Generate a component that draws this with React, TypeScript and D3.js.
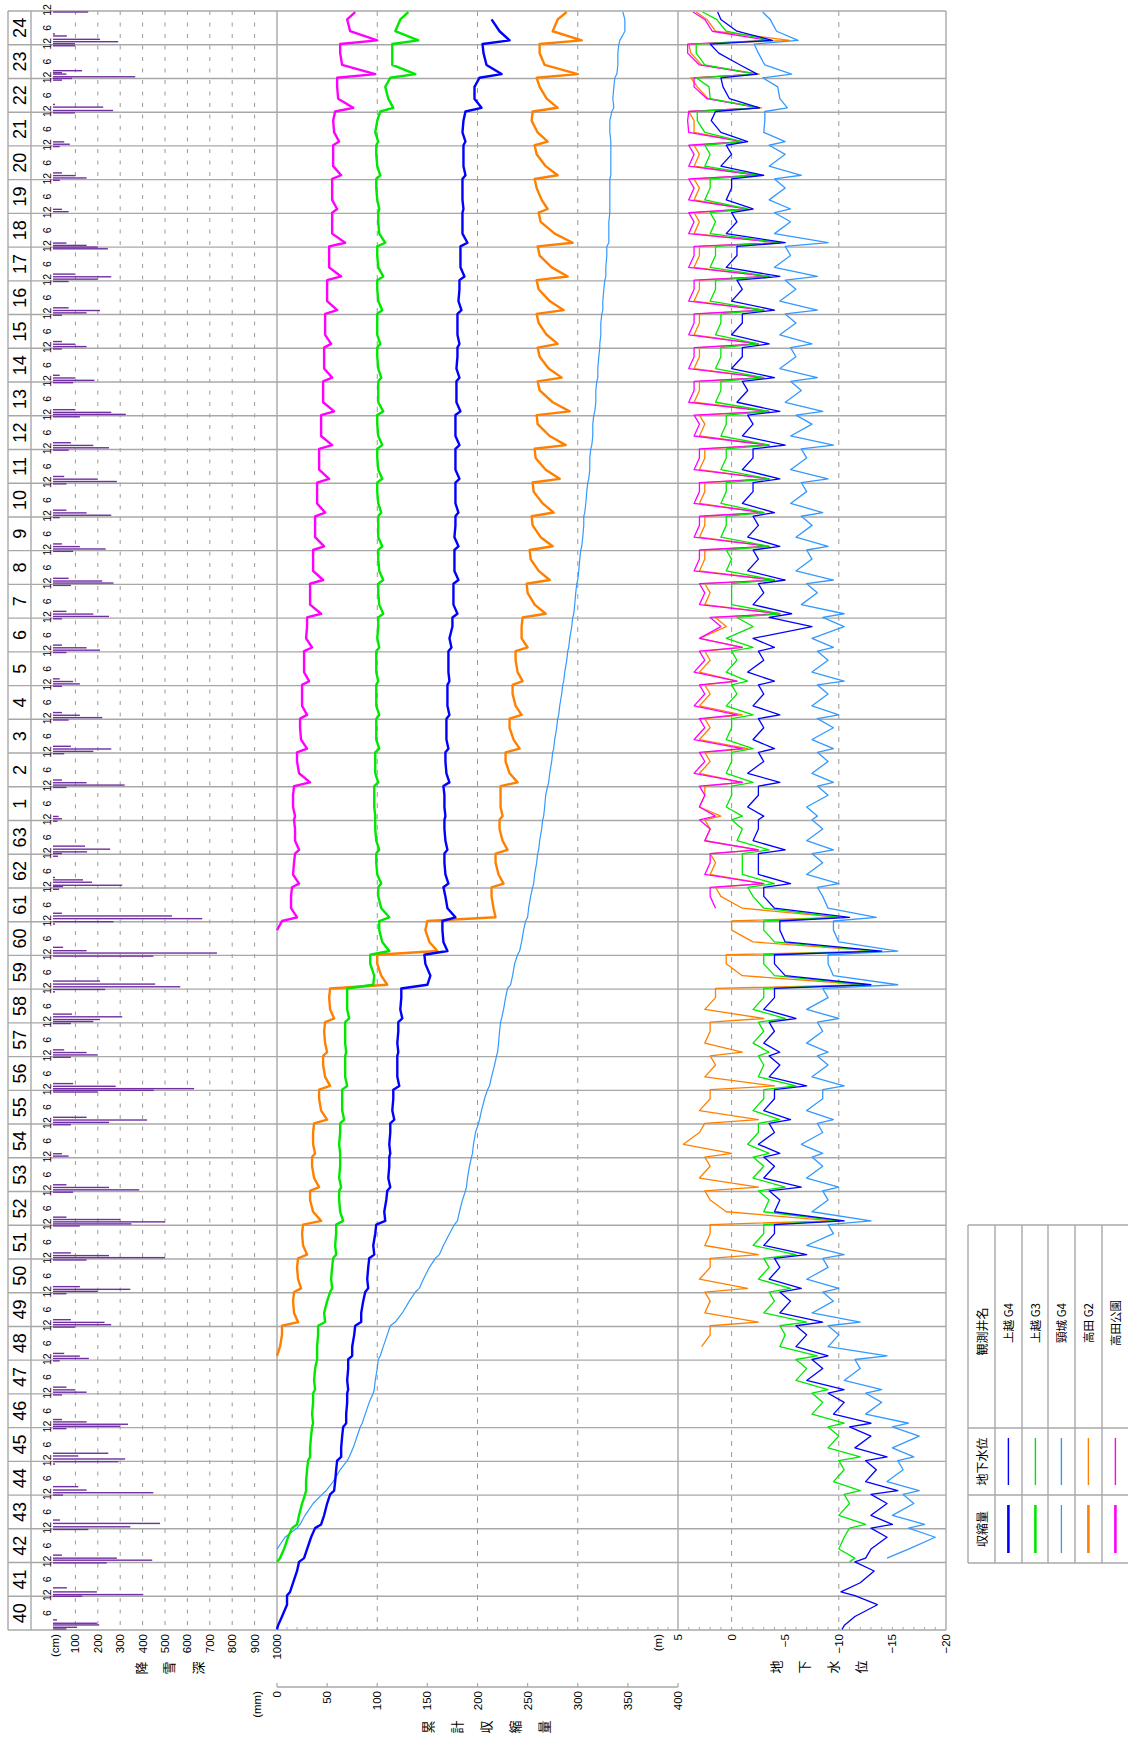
import React from 'react';
import * as d3 from 'd3';

const W = 1128;
const H = 1739;
const FONT = "'Liberation Sans', 'Noto Sans CJK JP', sans-serif";
const JP = "'Noto Sans CJK JP', sans-serif";

// years: Showa 40 (1965) .. Heisei 24 (2012)
const firstYear = 1965;
const lastYear = 2013;
const yearLabels = [
  '40', '41', '42', '43', '44', '45', '46', '47', '48', '49', '50', '51',
  '52', '53', '54', '55', '56', '57', '58', '59', '60', '61', '62', '63',
  '1', '2', '3', '4', '5', '6', '7', '8', '9', '10', '11', '12',
  '13', '14', '15', '16', '17', '18', '19', '20', '21', '22', '23', '24',
];

const snowTicks = [100, 200, 300, 400, 500, 600, 700, 800, 900, 1000];
const shrinkTicks = [0, 50, 100, 150, 200, 250, 300, 350, 400];
const gwTicks = [5, 0, -5, -10, -15, -20];

// snowfall depth bars: [decimal year, cm]
const snowDepth: [number, number][] = [
  [1965.03, 60], [1965.08, 107], [1965.15, 206], [1965.2, 196], [1965.3, 18],
  [1966.0, 130], [1966.05, 403], [1966.13, 196], [1966.25, 62],
  [1966.99, 240], [1967.07, 443], [1967.13, 285], [1967.22, 40],
  [1967.98, 158], [1968.06, 345], [1968.16, 478], [1968.26, 31],
  [1969.0, 45], [1969.07, 448], [1969.15, 150], [1969.25, 113],
  [1969.92, 9], [1969.99, 292], [1970.07, 322], [1970.16, 113], [1970.24, 247],
  [1970.97, 60], [1971.04, 300], [1971.1, 335], [1971.17, 150], [1971.24, 40],
  [1971.97, 40], [1972.05, 150], [1972.12, 100], [1972.2, 60],
  [1972.98, 30], [1973.05, 160], [1973.12, 120], [1973.2, 50],
  [1973.98, 100], [1974.05, 260], [1974.12, 230], [1974.2, 80],
  [1974.97, 60], [1975.04, 200], [1975.1, 345], [1975.18, 120],
  [1975.97, 150], [1976.04, 500], [1976.1, 250], [1976.18, 80],
  [1976.98, 120], [1977.04, 350], [1977.1, 500], [1977.17, 300], [1977.24, 60],
  [1977.98, 90], [1978.05, 385], [1978.12, 250], [1978.2, 60],
  [1979.05, 70], [1979.12, 40],
  [1979.98, 80], [1980.05, 250], [1980.12, 420], [1980.2, 150],
  [1980.95, 200], [1981.0, 450], [1981.05, 630], [1981.12, 280], [1981.2, 90],
  [1981.98, 80], [1982.05, 200], [1982.12, 150], [1982.2, 50],
  [1982.98, 80], [1983.04, 180], [1983.1, 210], [1983.18, 309], [1983.26, 85],
  [1983.92, 9], [1983.99, 233], [1984.07, 568], [1984.15, 456], [1984.24, 210],
  [1984.98, 448], [1985.07, 732], [1985.14, 150], [1985.24, 45],
  [1985.93, 9], [1986.0, 270], [1986.09, 666], [1986.17, 531], [1986.25, 40],
  [1986.96, 27], [1987.04, 45], [1987.08, 309], [1987.17, 174], [1987.24, 134], [1987.31, 9],
  [1987.94, 22], [1988.02, 40], [1988.07, 152], [1988.15, 255], [1988.24, 143],
  [1988.98, 20], [1989.05, 40], [1989.12, 25],
  [1989.98, 60], [1990.05, 320], [1990.12, 150], [1990.2, 40],
  [1990.98, 50], [1991.05, 180], [1991.12, 260], [1991.2, 80],
  [1991.98, 70], [1992.05, 220], [1992.12, 120], [1992.2, 40],
  [1992.98, 40], [1993.05, 120], [1993.12, 90], [1993.2, 30],
  [1993.98, 60], [1994.05, 210], [1994.12, 150], [1994.2, 40],
  [1994.98, 40], [1995.05, 250], [1995.12, 180], [1995.2, 60],
  [1995.97, 80], [1996.04, 270], [1996.1, 220], [1996.18, 70],
  [1996.98, 90], [1997.05, 235], [1997.12, 120], [1997.2, 40],
  [1997.98, 30], [1998.05, 260], [1998.12, 150], [1998.2, 60],
  [1998.98, 60], [1999.05, 285], [1999.12, 200], [1999.2, 50],
  [1999.98, 70], [2000.05, 250], [2000.12, 180], [2000.2, 80],
  [2000.97, 120], [2001.04, 325], [2001.1, 260], [2001.18, 100],
  [2001.98, 90], [2002.05, 185], [2002.12, 100], [2002.2, 30],
  [2002.98, 40], [2003.05, 150], [2003.12, 100], [2003.2, 40],
  [2003.98, 40], [2004.05, 150], [2004.12, 210], [2004.2, 70],
  [2004.98, 70], [2005.05, 200], [2005.12, 260], [2005.2, 100],
  [2005.95, 245], [2006.0, 200], [2006.05, 150], [2006.12, 60],
  [2007.05, 70], [2007.12, 40],
  [2007.98, 30], [2008.05, 150], [2008.12, 100], [2008.2, 40],
  [2008.98, 30], [2009.05, 75], [2009.12, 50],
  [2009.98, 98], [2010.05, 268], [2010.15, 224], [2010.23, 9],
  [2010.95, 40], [2011.0, 85], [2011.05, 367], [2011.13, 60], [2011.17, 40], [2011.23, 130],
  [2011.97, 98], [2012.03, 98], [2012.09, 291], [2012.16, 210], [2012.26, 62], [2012.32, 9],
  [2012.97, 157],
];

// each row = one year, sampled early Jan, mid Feb, May, Oct, (late Dec)
const sampleAt = [0.02, 0.13, 0.4, 0.75, 0.97];

// cumulative shrinkage (mm)
const shrinkJoetsuG4 = [
  [0, 1, 5, 10], [10, 13, 16, 20], [22, 27, 30, 34], [38, 44, 47, 50], [53, 57, 58, 59],
  [60, 64, 64, 65], [66, 69, 69, 70], [70, 71, 70, 71], [71, 75, 75, 77], [78, 84, 84, 86],
  [88, 91, 90, 91], [92, 97, 96, 98], [99, 108, 107, 109], [110, 113, 111, 112], [112, 113, 112, 113],
  [113, 117, 115, 116], [116, 122, 120, 120], [120, 121, 120, 121], [121, 125, 123, 124], [124, 150, 153, 148],
  [147, 170, 166, 165], [165, 178, 170, 168], [166, 171, 168, 167], [167, 170, 168, 167], [167, 168, 167, 167],
  [166, 172, 169, 168], [168, 171, 169, 169], [169, 172, 170, 170], [170, 172, 171, 171], [171, 174, 172, 175],
  [175, 180, 176, 176], [176, 181, 177, 177], [177, 181, 177, 178], [178, 181, 178, 178], [178, 182, 178, 178],
  [178, 182, 178, 178], [178, 183, 179, 179], [179, 182, 179, 180], [180, 182, 180, 180], [180, 184, 181, 182],
  [182, 187, 183, 183], [183, 190, 185, 185], [185, 186, 185, 185], [185, 188, 186, 186], [186, 188, 185, 186],
  [188, 204, 197, 197], [202, 224, 209, 206], [205, 232, 222, 214],
];
const shrinkJoetsuG3 = [
  [0, 3, 7, 11], [15, 20, 22, 25], [28, 29, 29, 30], [31, 33, 33, 34], [35, 36, 35, 36],
  [36, 38, 37, 38], [40, 40, 40, 41], [41, 48, 47, 50], [53, 55, 54, 55], [56, 59, 58, 59],
  [59, 66, 63, 62], [62, 64, 62, 63], [63, 63, 62, 63], [63, 67, 65, 65], [65, 70, 68, 68],
  [68, 69, 68, 68], [68, 72, 70, 70], [70, 96, 97, 93], [93, 112, 105, 102], [102, 112, 104, 101],
  [101, 104, 100, 99], [99, 102, 99, 98], [98, 98, 97, 97], [97, 101, 98, 98], [98, 102, 99, 99],
  [99, 102, 99, 99], [99, 101, 99, 99], [99, 102, 100, 101], [101, 106, 102, 101], [101, 106, 102, 101],
  [101, 105, 101, 101], [101, 104, 101, 100], [100, 105, 101, 100], [100, 105, 101, 100], [100, 106, 101, 101],
  [101, 104, 101, 100], [100, 103, 100, 100], [100, 105, 101, 100], [100, 106, 101, 100], [100, 108, 102, 101],
  [101, 102, 100, 99], [99, 103, 100, 99], [99, 101, 98, 100], [103, 116, 111, 108], [113, 138, 115, 115],
  [115, 141, 118, 123, 131],
];
const shrinkKubikiG4 = [
  [null, null, 0, 8], [20, 23, 28, 36], [45, 49, 56, 63], [70, 72, 76, 80], [83, 85, 88, 92],
  [96, 97, 98, 100], [101, 103, 106, 110], [113, 118, 125, 132], [138, 142, 146, 152], [158, 162, 166, 172],
  [177, 180, 182, 185], [188, 189, 190, 192], [194, 195, 196, 198], [201, 202, 204, 207], [210, 212, 214, 217],
  [219, 220, 221, 222], [223, 224, 226, 228], [230, 233, 235, 237], [240, 242, 244, 246], [248, 250, 251, 253],
  [255, 256, 257, 259], [260, 261, 262, 264], [265, 266, 267, 268], [270, 271, 272, 274], [275, 276, 277, 279],
  [280, 281, 282, 284], [285, 286, 287, 289], [290, 291, 292, 294], [295, 296, 297, 298], [299, 300, 301, 302],
  [303, 304, 305, 306], [306, 307, 308, 309], [310, 311, 312, 312], [313, 314, 315, 315], [316, 317, 318, 318],
  [319, 320, 320, 321], [322, 322, 323, 323], [324, 325, 325, 326], [327, 328, 328, 329], [329, 331, 331, 331],
  [332, 332, 332, 332], [332, 333, 333, 333], [333, 333, 332, 332], [334, 336, 335, 336], [337, 339, 340, 340],
  [341, 342, 347, 347, 345],
];
const shrinkTakadaG2 = [
  [null, 0, 3, 5], [5, 21, 17, 16], [17, 24, 21, 20], [21, 30, 26, 25], [26, 44, 36, 33],
  [33, 42, 37, 35], [35, 38, 36, 36], [37, 50, 44, 42], [42, 53, 48, 46], [46, 50, 48, 47],
  [48, 57, 53, 52], [53, 110, 104, 100], [100, 160, 152, 148], [150, 218, 216, 214], [214, 226, 221, 218],
  [218, 230, 225, 222], [222, 225, 223, 223], [223, 240, 232, 228], [228, 242, 236, 232], [232, 244, 238, 235],
  [235, 245, 240, 238], [238, 250, 244, 244], [245, 268, 257, 250], [249, 272, 261, 253], [252, 275, 263, 255],
  [254, 276, 265, 256], [255, 282, 268, 258], [257, 288, 272, 260], [259, 292, 275, 262], [260, 284, 271, 262],
  [260, 280, 269, 261], [259, 286, 272, 261], [259, 290, 274, 262], [260, 295, 277, 263], [261, 270, 264, 259],
  [257, 280, 268, 259], [257, 270, 260, 254], [255, 280, 269, 262], [259, 300, 267, 262], [262, 304, 275, 280, 289],
];
const shrinkTakadaPark = [
  [null, null, null, 0], [5, 20, 14, 14], [15, 22, 16, 17], [18, 22, 18, 18], [17, 18, 16, 16],
  [17, 33, 22, 20], [20, 30, 24, 23], [23, 30, 25, 25], [25, 32, 27, 27], [27, 35, 29, 30],
  [30, 44, 33, 33], [33, 46, 36, 36], [36, 47, 38, 38], [38, 48, 40, 40], [40, 52, 42, 42],
  [42, 55, 44, 44], [44, 57, 46, 46], [46, 55, 47, 47], [47, 54, 48, 48], [48, 60, 50, 50],
  [50, 64, 52, 52], [52, 68, 55, 55], [55, 60, 55, 55], [55, 64, 56, 56], [56, 62, 57, 56],
  [58, 76, 61, 60], [60, 98, 65, 63], [63, 100, 73, 70, 78],
];

// groundwater level (m)
const gwJoetsuG4 = [
  [-10.3, -10.5, -11.5, -13.6], [-11.5, -10.2, -12.0, -13.3], [-11.5, -12.5, -13.0, -14.5], [-13.0, -15.0, -13.0, -14.5], [-13.0, -15.5, -12.5, -13.5],
  [-12.5, -14.5, -11.5, -13.0], [-11.0, -13.0, -9.5, -10.5], [-9.0, -10.5, -7.0, -8.5], [-7.5, -9.0, -6.0, -7.0], [-6.0, -8.5, -4.5, -5.5],
  [-4.5, -6.5, -3.5, -4.5], [-4.0, -7.0, -3.0, -4.0], [-4.0, -10.5, -4.0, -4.5], [-3.5, -6.5, -3.0, -4.0], [-3.0, -4.5, -2.5, -4.0],
  [-3.5, -5.5, -3.0, -4.0], [-4.0, -7.0, -3.5, -4.5], [-3.5, -4.5, -3.0, -4.0], [-3.5, -6.0, -3.0, -4.0], [-4.0, -13.0, -5.0, -4.0],
  [-4.0, -14.0, -5.0, -4.5], [-4.5, -11.0, -4.0, -3.0], [-3.0, -5.5, -2.5, -2.5], [-2.5, -5.0, -2.0, -2.5], [-2.5, -3.0, -1.5, -2.5],
  [-2.5, -4.5, -1.5, -3.0], [-2.5, -4.0, -2.0, -3.0], [-2.5, -4.5, -2.0, -3.0], [-2.5, -4.0, -1.5, -3.0], [-2.5, -4.0, -2.0, -7.5],
  [-3.5, -5.6, -2.0, -3.0], [-2.5, -5.0, -1.5, -2.5], [-2.0, -4.5, -1.5, -2.5], [-2.0, -4.0, -1.0, -2.0], [-2.0, -4.5, -1.0, -2.0],
  [-2.0, -5.0, -1.0, -2.0], [-1.5, -4.5, -0.5, -1.5], [-1.0, -4.0, 0.0, -1.0], [-1.0, -3.5, 0.0, -1.0], [-1.0, -4.0, 0.0, -1.0],
  [-0.5, -4.5, 0.5, -0.5], [-0.5, -5.0, 0.5, -0.5], [0.0, -2.0, 0.5, 0.0], [0.0, -3.0, 1.0, 0.0], [0.5, -1.5, 1.0, 1.9],
  [1.5, -2.6, 0.2, 0.8], [1.0, -2.4, -0.8, 1.2], [2.0, -3.8, -0.5, 1.0, 1.3],
];
const gwJoetsuG3 = [
  [-11.0, -11.5, -10.0, -10.5], [-11.0, -12.5, -10.0, -11.0], [-10.5, -12.0, -9.5, -10.5], [-10.0, -12.0, -9.0, -10.0], [-9.0, -10.5, -7.5, -8.5],
  [-7.5, -9.0, -6.0, -7.0], [-6.0, -8.0, -4.5, -5.0], [-4.5, -7.0, -3.0, -4.0], [-3.5, -5.5, -2.5, -3.5], [-3.0, -6.0, -2.0, -3.0],
  [-3.0, -10.0, -3.0, -3.5], [-2.5, -5.0, -2.0, -3.0], [-2.0, -3.5, -1.5, -2.5], [-2.5, -4.5, -2.0, -3.0], [-3.0, -6.0, -2.5, -3.0],
  [-2.5, -3.5, -2.0, -3.0], [-2.5, -5.0, -2.0, -3.0], [-3.0, -12.5, -4.0, -3.0], [-3.0, -13.5, -4.0, -3.0], [-3.0, -10.0, -3.0, -2.0],
  [-1.5, -4.0, -1.0, -1.0], [-1.0, -3.5, -0.5, -1.0], [0.0, -1.0, 0.5, 0.0], [0.0, -2.0, 0.5, 0.0], [0.0, -2.0, 0.5, 0.0],
  [0.0, -2.0, 0.5, -0.5], [0.0, -1.5, 0.5, -0.5], [0.0, -2.0, 0.5, -2.0], [-0.5, -4.5, 0.0, 0.0], [0.0, -4.0, 0.5, 0.0],
  [0.5, -3.5, 1.0, 0.5], [0.5, -3.0, 1.0, 0.5], [0.5, -3.5, 1.0, 0.5], [0.5, -3.5, 1.0, 0.5], [0.5, -3.5, 1.5, 1.0],
  [1.0, -3.0, 1.5, 1.0], [1.0, -2.5, 1.5, 1.0], [1.0, -3.0, 2.0, 1.5], [1.5, -3.5, 2.0, 1.5], [1.5, -4.5, 2.0, 1.5],
  [2.0, -1.5, 2.5, 2.0], [2.0, -2.5, 2.5, 2.0], [2.5, -1.0, 2.5, 3.2], [3.2, -2.6, 2.0, 2.1], [3.3, -2.3, 2.5, 3.3],
  [3.3, -3.7, 0.5, 1.4, 2.7],
];
const gwKubikiG4 = [
  [null, -14.5, -16.5, -19.0], [-16.5, -18.0, -15.0, -17.0], [-16.0, -17.5, -14.5, -16.0], [-15.5, -17.0, -15.0, -17.5], [-15.0, -16.5, -12.5, -14.0],
  [-12.5, -14.0, -10.5, -12.0], [-11.5, -14.5, -9.0, -10.0], [-9.0, -12.0, -7.5, -9.5], [-8.5, -10.0, -7.0, -9.0], [-8.5, -10.5, -7.0, -9.5],
  [-9.0, -13.0, -7.5, -9.0], [-8.5, -10.0, -7.0, -8.5], [-7.5, -8.5, -6.5, -8.5], [-8.0, -9.5, -7.0, -8.5], [-8.5, -10.5, -7.5, -9.0],
  [-8.0, -9.0, -7.0, -8.5], [-8.0, -10.0, -7.0, -9.0], [-8.5, -15.5, -9.5, -9.0], [-9.0, -15.5, -10.0, -9.5], [-9.5, -13.5, -9.0, -8.5],
  [-8.0, -10.0, -7.0, -8.5], [-7.5, -9.5, -7.0, -8.5], [-7.5, -8.0, -7.0, -9.0], [-8.0, -9.5, -7.5, -9.0], [-8.0, -9.5, -7.5, -9.5],
  [-8.0, -10.0, -7.5, -9.0], [-8.0, -10.5, -7.5, -9.0], [-8.0, -9.5, -7.5, -10.5], [-8.5, -10.5, -6.5, -8.0], [-7.0, -9.5, -6.0, -7.5],
  [-7.0, -9.0, -6.0, -7.5], [-6.5, -8.5, -5.5, -7.0], [-6.5, -9.0, -5.5, -7.0], [-6.5, -9.5, -5.5, -7.5], [-6.0, -8.5, -5.0, -6.5],
  [-5.5, -8.0, -4.5, -6.0], [-5.5, -7.5, -4.5, -6.0], [-5.0, -8.0, -4.5, -6.0], [-5.0, -8.0, -4.0, -5.5], [-5.0, -9.0, -4.0, -5.5],
  [-4.0, -5.5, -3.5, -5.0], [-4.0, -6.5, -3.5, -5.0], [-3.5, -5.0, -3.0, -3.1], [-3.1, -5.2, -4.5, -4.3], [-2.9, -5.6, -3.1, -2.5],
  [-2.1, -6.2, -4.2, -3.6, -2.9],
];
const gwTakadaG2 = [
  [null, null, 2.8, 2.0], [2.0, -2.5, 2.5, 2.0], [2.5, -1.5, 3.0, 2.0], [2.0, -2.5, 2.5, 2.0], [2.0, -9.5, 0.5, 2.0],
  [2.5, -2.5, 3.0, 2.0], [2.5, 0.0, 4.5, 3.0], [2.5, -2.5, 3.0, 2.0], [2.0, -4.0, 2.5, 1.5], [2.0, -1.0, 2.5, 2.0],
  [2.0, -3.0, 2.5, 1.5], [1.5, -12.5, -1.0, 0.5], [0.5, -13.5, -2.0, 0.0], [0.0, -10.0, -1.0, 1.0], [1.5, -3.0, 2.0, 1.5],
  [2.0, -2.5, 2.5, 2.0], [2.5, 1.0, 3.0, 2.5], [2.5, -1.0, 3.0, 2.0], [2.5, -1.5, 3.0, 2.0], [2.5, -1.0, 3.0, 2.0],
  [2.5, -0.5, 3.0, 2.0], [2.5, -1.0, 3.0, 0.5], [1.5, -4.5, 2.5, 2.0], [2.5, -4.0, 3.0, 2.5], [2.5, -3.5, 3.0, 2.5],
  [2.5, -3.0, 3.0, 2.5], [2.5, -3.5, 3.0, 2.5], [2.5, -3.5, 3.0, 2.5], [3.0, -3.5, 3.5, 3.0], [3.0, -3.0, 3.5, 3.0],
  [3.0, -2.5, 3.5, 3.0], [3.0, -3.0, 3.5, 3.0], [3.0, -3.5, 3.5, 3.0], [3.0, -4.5, 3.5, 3.0], [3.5, -1.5, 3.5, 3.0],
  [3.5, -2.5, 3.5, 3.0], [3.5, -1.0, 3.5, 3.5], [4.0, -2.8, 2.2, 3.2], [3.8, -2.6, 2.8, 3.8], [4.0, -5.4, 1.5, 2.3, 3.3],
];
const gwTakadaPark = [
  [null, null, 1.5, 2.0], [2.0, -3.0, 2.5, 2.0], [2.0, -2.5, 2.5, 2.0], [3.0, 1.5, 3.0, 2.5], [3.0, -1.0, 3.5, 2.5],
  [3.0, -1.0, 3.5, 2.5], [3.0, -0.5, 3.5, 2.5], [3.0, -0.5, 3.5, 2.5], [3.0, -1.0, 3.0, 1.0], [2.0, -4.5, 3.0, 2.5],
  [3.0, -4.0, 3.5, 3.0], [3.0, -3.5, 3.5, 3.0], [3.0, -3.0, 3.5, 3.0], [3.0, -3.5, 3.5, 3.0], [3.0, -3.5, 3.5, 3.0],
  [3.5, -3.5, 4.0, 3.5], [3.5, -3.0, 4.0, 3.5], [3.5, -2.5, 4.0, 3.5], [3.5, -3.0, 4.0, 3.5], [3.5, -3.5, 4.0, 3.5],
  [3.5, -4.5, 4.0, 3.5], [4.0, -1.5, 4.0, 3.5], [4.0, -2.5, 4.0, 3.5], [4.0, -1.0, 4.0, 4.1], [4.0, -2.6, 2.3, 3.5],
  [3.5, -2.3, 3.0, 4.1], [4.1, -3.4, 1.8, 2.5, 3.6],
];

const wells = [
  { name: '上越 G4', color: '#0000ff', width: 2.4, shrinkStart: 1965, shrink: shrinkJoetsuG4, gwStart: 1965, gw: gwJoetsuG4 },
  { name: '上越 G3', color: '#00e800', width: 2.4, shrinkStart: 1967, shrink: shrinkJoetsuG3, gwStart: 1967, gw: gwJoetsuG3 },
  { name: '頸城 G4', color: '#3399ff', width: 1.2, shrinkStart: 1967, shrink: shrinkKubikiG4, gwStart: 1967, gw: gwKubikiG4 },
  { name: '高田 G2', color: '#ff8000', width: 2.4, shrinkStart: 1973, shrink: shrinkTakadaG2, gwStart: 1973, gw: gwTakadaG2 },
  { name: '高田公園', color: '#ff00ff', width: 2.4, shrinkStart: 1985, shrink: shrinkTakadaPark, gwStart: 1986, gw: gwTakadaPark },
];
const drawOrder = [2, 3, 4, 1, 0];

function rowsToPoints(start: number, rows: (number | null)[][]) {
  const pts: [number, number][] = [];
  rows.forEach((row, i) =>
    row.forEach((v, j) => {
      if (v !== null) pts.push([start + i + sampleAt[j], v]);
    })
  );
  return pts;
}

function VText({ x, y, children, anchor = 'middle', size = 12, family = FONT, baseline = 'central' }: any) {
  return (
    <text
      transform={`translate(${x},${y}) rotate(-90)`}
      textAnchor={anchor}
      dominantBaseline={baseline}
      fontSize={size}
      fontFamily={family}
      fill="#000"
    >
      {children}
    </text>
  );
}

export default function App() {
  const top = 11;
  const bottom = 1630;
  const left = 8;
  const yearColRight = 31;
  const right = 946;

  const y = d3.scaleLinear().domain([firstYear, lastYear]).range([bottom, top]);
  const xSnow = d3.scaleLinear().domain([0, 1000]).range([53, 277]);
  const xShrink = d3.scaleLinear().domain([0, 400]).range([277, 678]);
  const xGw = d3.scaleLinear().domain([5, -20]).range([678, 946]);

  const grid = '#a8a8a8';
  const years = d3.range(firstYear, lastYear);

  const shrinkLine = d3.line<[number, number]>().x(d => xShrink(d[1])).y(d => y(d[0]));
  const gwLine = d3.line<[number, number]>().x(d => xGw(d[1])).y(d => y(d[0]));

  const shrinkAxisY = 1687;

  // legend geometry
  const lgTop = 1225;
  const lgRows = [1225, 1428, 1495, 1563];
  const lgCols = [968, 995, 1022, 1048, 1075, 1102];
  const lgColW = 26.8;

  return (
    <svg
      width={W}
      height={H}
      style={{ position: 'absolute', left: 0, top: 0, background: '#fff' }}
      xmlns="http://www.w3.org/2000/svg"
    >
      <rect x={0} y={0} width={W} height={H} fill="#fff" />

      {/* dashed grid */}
      {snowTicks.slice(0, 9).map(v => (
        <line key={'sg' + v} x1={xSnow(v)} x2={xSnow(v)} y1={top} y2={bottom} stroke="#999" strokeWidth={1} strokeDasharray="4 7.5" />
      ))}
      {[100, 200, 300].map(v => (
        <line key={'hg' + v} x1={xShrink(v)} x2={xShrink(v)} y1={top} y2={bottom} stroke="#999" strokeWidth={1} strokeDasharray="5 6" />
      ))}
      {[0, -10].map(v => (
        <line key={'gg' + v} x1={xGw(v)} x2={xGw(v)} y1={top} y2={bottom} stroke="#999" strokeWidth={1} strokeDasharray="5 6" />
      ))}

      {/* year rows */}
      {d3.range(firstYear, lastYear + 1).map(yr => (
        <line key={'yl' + yr} x1={left} x2={right} y1={y(yr)} y2={y(yr)} stroke={grid} strokeWidth={1.4} />
      ))}
      {[left, yearColRight, xShrink(0), xShrink(400), right].map((x, i) => (
        <line key={'vl' + i} x1={x} x2={x} y1={top} y2={bottom} stroke={grid} strokeWidth={1.4} />
      ))}

      {/* minor ticks on the bottom frame */}
      {d3.range(10, 400, 10).map(v => (
        <line key={'mt' + v} x1={xShrink(v)} x2={xShrink(v)} y1={bottom} y2={bottom - 3} stroke={grid} strokeWidth={1} />
      ))}
      {d3.range(4, -20, -1).map(v => (
        <line key={'gt' + v} x1={xGw(v)} x2={xGw(v)} y1={bottom} y2={bottom - 3} stroke={grid} strokeWidth={1} />
      ))}

      {/* year and month labels */}
      {years.map((yr, i) => (
        <g key={'lab' + yr}>
          <VText x={20} y={y(yr + 0.5)} size={18}>{yearLabels[i]}</VText>
          <VText x={47} y={y(yr + 0.5)} size={10.5}>6</VText>
          <VText x={47} y={y(yr + 1.03)} size={10.5}>12</VText>
        </g>
      ))}

      {/* snowfall bars */}
      {snowDepth.map(([t, v], i) => (
        <rect key={'sn' + i} x={xSnow(0)} y={y(t) - 0.7} width={xSnow(v) - xSnow(0)} height={1.4} fill="#7030a0" />
      ))}

      {/* cumulative shrinkage */}
      {drawOrder.map(k => {
        const w = wells[k];
        return (
          <path key={'sh' + k} d={shrinkLine(rowsToPoints(w.shrinkStart, w.shrink)) || ''} fill="none" stroke={w.color} strokeWidth={w.width} strokeLinejoin="round" />
        );
      })}

      {/* groundwater level */}
      {drawOrder.map(k => {
        const w = wells[k];
        return (
          <path key={'gw' + k} d={gwLine(rowsToPoints(w.gwStart, w.gw)) || ''} fill="none" stroke={w.color} strokeWidth={1.3} strokeLinejoin="round" />
        );
      })}

      {/* snow axis labels */}
      <VText x={xSnow(0) + 2} y={1634} anchor="end" size={11.5}>(cm)</VText>
      {snowTicks.map(v => (
        <VText key={'st' + v} x={xSnow(v)} y={1634} anchor="end" size={11.5}>{v}</VText>
      ))}
      {['降', '雪', '深'].map((c, i) => (
        <VText key={'sc' + i} x={140 + i * 28.5} y={1668} size={13} family={JP}>{c}</VText>
      ))}

      {/* shrinkage axis */}
      <line x1={xShrink(0)} x2={xShrink(400)} y1={shrinkAxisY} y2={shrinkAxisY} stroke={grid} strokeWidth={1.4} />
      {shrinkTicks.map(v => (
        <g key={'ht' + v}>
          <line x1={xShrink(v)} x2={xShrink(v)} y1={shrinkAxisY} y2={shrinkAxisY - 4} stroke={grid} strokeWidth={1.2} />
          <VText x={xShrink(v)} y={shrinkAxisY + 4} anchor="end" size={11.5}>{v}</VText>
        </g>
      ))}
      <VText x={257} y={shrinkAxisY + 4} anchor="end" size={11.5}>(mm)</VText>
      {['累', '計', '収', '縮', '量'].map((c, i) => (
        <VText key={'hc' + i} x={427 + i * 29} y={1727} size={13} family={JP}>{c}</VText>
      ))}

      {/* groundwater axis labels */}
      <VText x={658} y={1634} anchor="end" size={11.5}>(m)</VText>
      {gwTicks.map(v => (
        <VText key={'gl' + v} x={xGw(v)} y={1634} anchor="end" size={11.5}>{v < 0 ? '\u2212' + Math.abs(v) : String(v)}</VText>
      ))}
      {['地', '下', '水', '位'].map((c, i) => (
        <VText key={'gc' + i} x={775 + i * 28.5} y={1667} size={13} family={JP}>{c}</VText>
      ))}

      {/* legend table */}
      <g>
        {lgRows.map((ly, i) => (
          <line key={'lr' + i} x1={lgCols[0]} x2={W} y1={ly} y2={ly} stroke={grid} strokeWidth={1.4} />
        ))}
        {lgCols.map((lx, i) => (
          <line key={'lc' + i} x1={lx} x2={lx} y1={lgTop} y2={lgRows[3]} stroke={grid} strokeWidth={1.4} />
        ))}
        <VText x={lgCols[0] + lgColW / 2} y={(lgRows[0] + lgRows[1]) / 2 + 5} size={12} family={JP}>観測井名</VText>
        <VText x={lgCols[0] + lgColW / 2} y={(lgRows[1] + lgRows[2]) / 2} size={12} family={JP}>地下水位</VText>
        <VText x={lgCols[0] + lgColW / 2} y={(lgRows[2] + lgRows[3]) / 2} size={12} family={JP}>収縮量</VText>
        {wells.map((w, i) => {
          const cx = lgCols[i + 1] + lgColW / 2;
          return (
            <g key={'lg' + i}>
              <VText x={cx} y={1323} size={11.5} family={JP}>{w.name}</VText>
              <line x1={cx} x2={cx} y1={1438} y2={1485} stroke={w.color} strokeWidth={1.4} />
              <line x1={cx} x2={cx} y1={1505} y2={1553} stroke={w.color} strokeWidth={w.width > 2 ? 2.6 : 1.3} />
            </g>
          );
        })}
      </g>
    </svg>
  );
}
